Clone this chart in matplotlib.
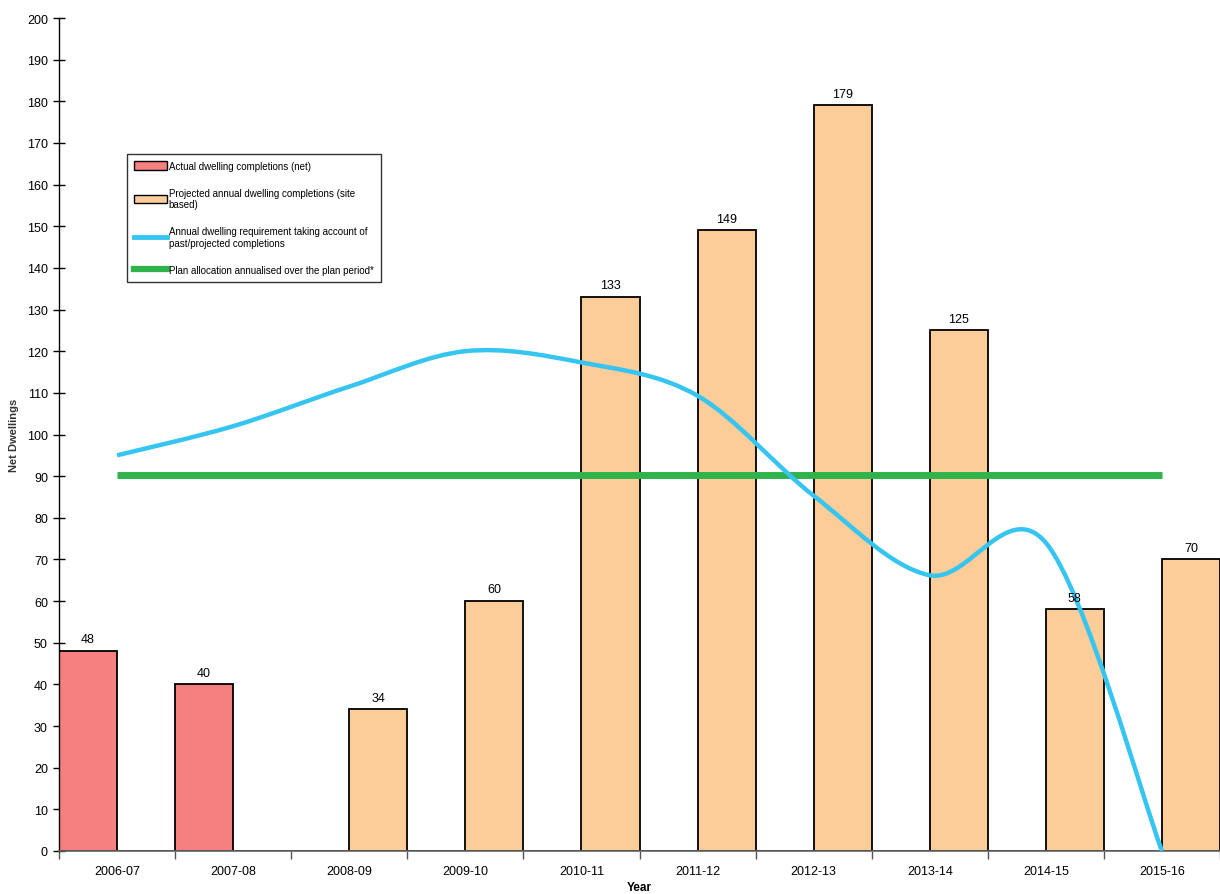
#!/usr/bin/env python3

import numpy as np
import matplotlib.pyplot as plt
from matplotlib.patches import Patch, PathPatch
from matplotlib.lines import Line2D
from matplotlib.path import Path

years = ["2006-07", "2007-08", "2008-09", "2009-10", "2010-11",
         "2011-12", "2012-13", "2013-14", "2014-15", "2015-16"]
actual = [48, 40, 0, 0, 0, 0, 0, 0, 0, 0]
projected = [0, 0, 34, 60, 133, 149, 179, 125, 58, 70]
requirement = [95, 102, 111.5, 120, 117.3, 109.3, 85.3, 66.2, 74, 0]
plan_allocation = [90.3] * len(years)

ACTUAL_COL = "#F48080"
PROJ_COL = "#FCCC99"
REQ_COL = "#35C5F0"
PLAN_COL = "#2FB34A"


def smooth_path(xs, ys):
    # Catmull-Rom through the points, written out as cubic Bezier segments
    pts = np.column_stack([xs, ys]).astype(float)
    n = len(pts)
    verts = [pts[0]]
    codes = [Path.MOVETO]
    for i in range(n - 1):
        p0 = pts[max(i - 1, 0)]
        p1 = pts[i]
        p2 = pts[i + 1]
        p3 = pts[min(i + 2, n - 1)]
        c1 = p1 + (p2 - p0) / 6.0
        c2 = p2 - (p3 - p1) / 6.0
        verts += [c1, c2, p2]
        codes += [Path.CURVE4] * 3
    return Path(verts, codes)


def main():
    plt.rcParams['font.family'] = ['Liberation Sans', 'DejaVu Sans']
    fig = plt.figure(figsize=(12.2, 8.95), dpi=100)
    ax = fig.add_axes([59 / 1220, 43 / 895, 1 - 59 / 1220, 833 / 895])

    x = np.arange(len(years))
    w = 0.5
    ax.bar(x - w / 2, actual, width=w, color=ACTUAL_COL, edgecolor='black',
           linewidth=1.3, zorder=2)
    ax.bar(x + w / 2, projected, width=w, color=PROJ_COL, edgecolor='black',
           linewidth=1.3, zorder=2)

    # value labels, skip the empty bars
    for xi, v in zip(x, actual):
        if v:
            ax.text(xi - w / 2, v + 1.4, str(v), ha='center', va='bottom',
                    fontsize=9, zorder=5)
    for xi, v in zip(x, projected):
        if v:
            ax.text(xi + w / 2, v + 1.4, str(v), ha='center', va='bottom',
                    fontsize=9, zorder=5)

    ax.plot(x, plan_allocation, color=PLAN_COL, linewidth=5,
            solid_capstyle='butt', zorder=3)
    req = PathPatch(smooth_path(x, requirement), facecolor='none',
                    edgecolor=REQ_COL, linewidth=3.2, zorder=4,
                    capstyle='butt')
    ax.add_patch(req)

    ax.set_xlim(-0.5, len(years) - 0.5)
    ax.set_ylim(0, 200)
    ax.set_yticks(np.arange(0, 201, 10))
    ax.set_xticks(x)
    ax.set_xticklabels(years)
    ax.set_xticks(np.arange(-0.5, len(years) - 0.4, 1), minor=True)
    ax.tick_params(axis='x', which='major', length=0, labelsize=9, pad=10)
    ax.tick_params(axis='x', which='minor', length=6, width=1,
                   direction='out', color='#555555')
    ax.tick_params(axis='y', which='major', length=8, width=1,
                   direction='inout', labelsize=9, pad=4)

    for side in ['top', 'right']:
        ax.spines[side].set_visible(False)
    ax.spines['left'].set_linewidth(1)
    ax.spines['bottom'].set_color('#666666')
    ax.spines['bottom'].set_linewidth(1.2)

    ax.set_ylabel('Net Dwellings', fontsize=8, fontweight='bold', labelpad=6,
                  color='#333333')
    ax.set_xlabel('Year', fontsize=8.5, fontweight='bold', labelpad=3)

    handles = [
        Patch(facecolor=ACTUAL_COL, edgecolor='black', linewidth=1),
        Patch(facecolor=PROJ_COL, edgecolor='black', linewidth=1),
        Line2D([], [], color=REQ_COL, linewidth=3.5),
        Line2D([], [], color=PLAN_COL, linewidth=4.5),
    ]
    labels = [
        'Actual dwelling completions (net)',
        'Projected annual dwelling completions (site\nbased)',
        'Annual dwelling requirement taking account of\npast/projected completions',
        'Plan allocation annualised over the plan period*',
    ]
    leg = ax.legend(handles, labels, loc='upper left',
                    bbox_to_anchor=(0.0586, 0.837), fontsize=7,
                    frameon=True, fancybox=False, edgecolor='black',
                    handlelength=3.4, handleheight=1.0, handletextpad=0.2,
                    labelspacing=1.75, borderpad=0.7, borderaxespad=0)
    leg.get_frame().set_linewidth(1)

    fig.savefig('out.png', dpi=100)


if __name__ == "__main__":
    main()
